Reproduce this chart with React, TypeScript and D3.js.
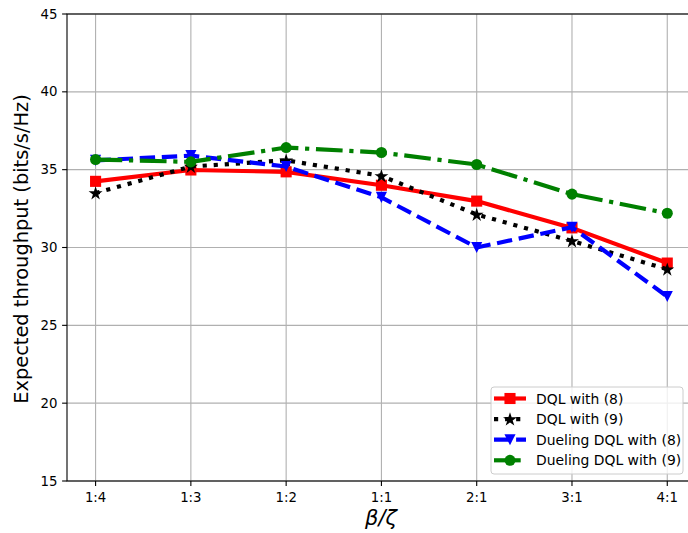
import React from "react";
import * as d3 from "d3";

const categories = ["1:4", "1:3", "1:2", "1:1", "2:1", "3:1", "4:1"];
const dqlEq8 = [34.25, 34.98, 34.86, 34.0, 32.98, 31.26, 29.0];
const dqlEq9 = [33.5, 35.2, 35.6, 34.6, 32.12, 30.42, 28.6];
const duelEq8 = [35.6, 35.9, 35.2, 33.22, 30.0, 31.3, 26.85];
const duelEq9 = [35.65, 35.5, 36.42, 36.1, 35.33, 33.43, 32.2];
const yTicks = [15, 20, 25, 30, 35, 40, 45];

const series = [
  { name: "DQL with (8)", values: dqlEq8, color: "#ff0000", dash: "none", marker: "square" },
  { name: "DQL with (9)", values: dqlEq9, color: "#000000", dash: "4.17,6.9", marker: "star" },
  { name: "Dueling DQL with (8)", values: duelEq8, color: "#0000ff", dash: "15.4,6.7", marker: "tri" },
  { name: "Dueling DQL with (9)", values: duelEq9, color: "#008000", dash: "26.7,6.7,4.2,6.7", marker: "circle" },
];

const W = 688, H = 533;
const L = 67, T = 14, B = 481;
const step = 95.28;
const R = L + step * 6.6;

function Marker({ type, x, y, color }: { type: string; x: number; y: number; color: string }) {
  const s = 11.1;
  if (type === "square") return <rect x={x - s / 2} y={y - s / 2} width={s} height={s} fill={color} />;
  if (type === "circle") return <circle cx={x} cy={y} r={s / 2} fill={color} />;
  if (type === "tri") {
    const r = s / 2;
    return <path d={`M${x - r},${y - r}L${x + r},${y - r}L${x},${y + r}Z`} fill={color} />;
  }
  const star = d3.symbol(d3.symbolStar, 60)();
  return <path d={star || ""} transform={`translate(${x},${y + 0.5})`} fill={color} />;
}

export default function App() {
  const x = d3.scalePoint<string>().domain(categories).range([L + step * 0.3, L + step * 6.3]);
  const y = d3.scaleLinear().domain([15, 45]).range([B, T]);
  const line = d3.line<number>().x((_, i) => x(categories[i]) as number).y((d) => y(d));
  const font = "'DejaVu Sans', sans-serif";
  const lx = 491, ly = 387, lw = 192, lh = 87;
  return (
    <svg width={W} height={H} style={{ position: "absolute", left: 0, top: 0 }} fontFamily={font}>
      <rect width={W} height={H} fill="#fff" />
      <defs>
        <clipPath id="clip"><rect x={L} y={T} width={R - L} height={B - T} /></clipPath>
      </defs>
      {categories.map((c) => (
        <line key={c} x1={x(c)} x2={x(c)} y1={T} y2={B} stroke="#b0b0b0" strokeWidth={1.1} />
      ))}
      {yTicks.map((t) => (
        <line key={t} x1={L} x2={R} y1={y(t)} y2={y(t)} stroke="#b0b0b0" strokeWidth={1.1} />
      ))}
      <g clipPath="url(#clip)">
        {series.map((s) => (
          <g key={s.name}>
            <path d={line(s.values) || ""} fill="none" stroke={s.color} strokeWidth={4.17}
              strokeDasharray={s.dash} strokeLinecap="butt" strokeLinejoin="round" />
            {s.values.map((v, i) => (
              <Marker key={i} type={s.marker} x={x(categories[i]) as number} y={y(v)} color={s.color} />
            ))}
          </g>
        ))}
      </g>
      <rect x={L} y={T} width={R - L} height={B - T} fill="none" stroke="#000" strokeWidth={1.1} />
      {yTicks.map((t) => (
        <g key={t}>
          <line x1={L - 4.9} x2={L} y1={y(t)} y2={y(t)} stroke="#000" strokeWidth={1.1} />
          <text x={L - 9.5} y={y(t)} dy="0.35em" textAnchor="end" fontSize={13.3} fill="#000">{t}</text>
        </g>
      ))}
      {categories.map((c) => (
        <g key={c}>
          <line x1={x(c)} x2={x(c)} y1={B} y2={B + 4.9} stroke="#000" strokeWidth={1.1} />
          <text x={x(c)} y={B + 21} textAnchor="middle" fontSize={13.3} fill="#000">{c}</text>
        </g>
      ))}
      <text transform={`translate(28,249) rotate(-90)`} textAnchor="middle" fontSize={19.4} fill="#000">
        Expected throughput (bits/s/Hz)
      </text>
      <text x={381} y={525} textAnchor="middle" fontSize={21} fontStyle="italic" fill="#000">β/ζ</text>
      <rect x={lx} y={ly} width={lw} height={lh} rx={3} fill="#fff" fillOpacity={0.8} stroke="#cccccc" strokeWidth={1} />
      {series.map((s, i) => {
        const yy = 398.5 + i * 20.6;
        return (
          <g key={s.name}>
            <line x1={494} x2={526} y1={yy} y2={yy} stroke={s.color} strokeWidth={4.17} strokeDasharray={s.dash} />
            <Marker type={s.marker} x={510} y={yy} color={s.color} />
            <text x={536} y={yy} dy="0.36em" fontSize={13.9} fill="#000">{s.name}</text>
          </g>
        );
      })}
    </svg>
  );
}
